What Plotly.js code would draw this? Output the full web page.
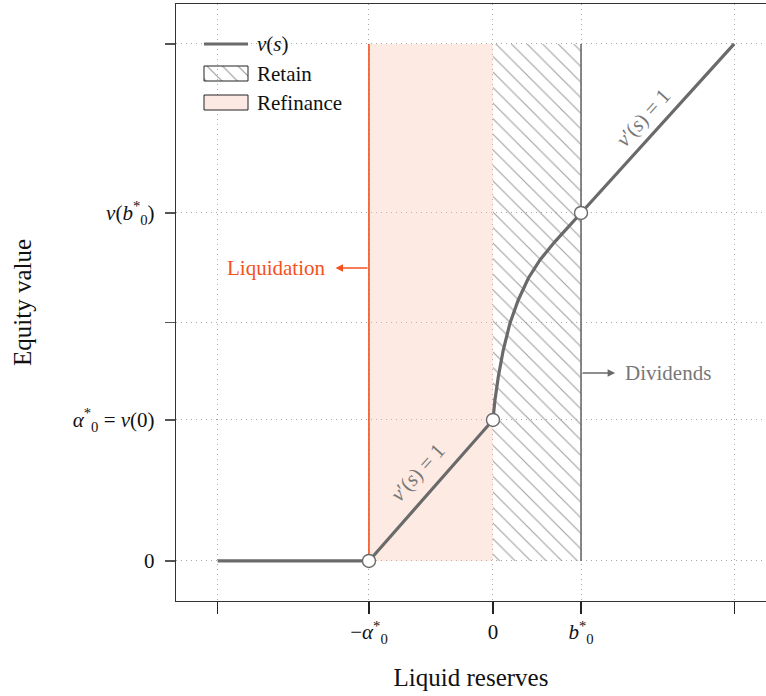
<!DOCTYPE html>
<html>
<head>
<meta charset="utf-8">
<script src="https://cdn.plot.ly/plotly-3.0.1.min.js"></script>
<style>html,body{margin:0;padding:0;background:#fff;}</style>
</head>
<body>
<div id="chart" style="width:766px;height:696px;"></div>
<script>
// ---- data ----
var xTickVals = [-2.22, -1, 0, 0.71, 1.945];
var xTickText = ['', '−<i>α</i><sup>*</sup><sub>0</sub>', '0', '<i>b</i><sup>*</sup><sub>0</sub>', ''];
var yTickVals = [0, 1, 1.69, 2.468, 3.667];
var yTickText = ['0', '<i>α</i><sup>*</sup><sub>0</sub> = <i>v</i>(0)', '', '<i>v</i>(<i>b</i><sup>*</sup><sub>0</sub>)', ''];

// equity value function v(s) over liquid reserves s
var sVals = [-2.22, -1, 0, 0.016, 0.043, 0.083, 0.137, 0.204, 0.285, 0.379, 0.500, 0.607, 0.71, 1.945];
var vVals = [0, 0, 1, 1.142, 1.307, 1.496, 1.686, 1.851, 2.005, 2.135, 2.265, 2.371, 2.468, 3.667];

// kink points: (−α0*, 0), (0, v(0)), (b0*, v(b0*))
var kinkS = [-1, 0, 0.71];
var kinkV = [0, 1, 2.468];

// regions
var refinanceS = [-1, 0, 0, -1, -1];
var refinanceV = [0, 0, 3.667, 3.667, 0];
var retainS = [0, 0.71, 0.71, 0, 0];
var retainV = [0, 0, 3.667, 3.667, 0];

// barriers
var liquidationLineS = [-1, -1];
var dividendLineS = [0.71, 0.71];
var barrierLineV = [0, 3.667];

// legend labels
var legendLabels = ['<i>v</i>(<i>s</i>)', 'Retain', 'Refinance'];

// ---- styles ----
var RED = '#f4511e';
var GRAY = '#6a6a6a';
var FONT = 'Liberation Serif, DejaVu Serif, serif';
var FS = 21;

// legend swatch geometry (pixel units on an overlay axis; layout only)
var LG = {x0: 204, x1: 248, yLine: 44, box1: [66, 81], box2: [95, 110], textX: 255};

var traces = [
  { x: refinanceS, y: refinanceV, type: 'scatter', mode: 'lines', fill: 'toself',
    fillcolor: 'rgba(248,190,170,0.33)', line: {width: 0}, hoverinfo: 'skip', showlegend: false },
  { x: retainS, y: retainV, type: 'scatter', mode: 'lines', fill: 'toself',
    fillcolor: 'rgba(255,255,255,0)', line: {width: 0},
    fillpattern: {shape: '\\', size: 11, solidity: 0.1, fgcolor: '#a0a0a0', bgcolor: 'rgba(255,255,255,0)'},
    hoverinfo: 'skip', showlegend: false },
  { x: liquidationLineS, y: barrierLineV, type: 'scatter', mode: 'lines',
    line: {color: RED, width: 1.6}, showlegend: false, hoverinfo: 'skip' },
  { x: dividendLineS, y: barrierLineV, type: 'scatter', mode: 'lines',
    line: {color: GRAY, width: 1.6}, showlegend: false, hoverinfo: 'skip' },
  { x: sVals, y: vVals, type: 'scatter', mode: 'lines', name: legendLabels[0],
    line: {color: GRAY, width: 3.2}, showlegend: false },
  { x: kinkS, y: kinkV, type: 'scatter', mode: 'markers', showlegend: false,
    marker: {size: 13, color: '#ffffff', line: {color: GRAY, width: 1.4}} },
  // legend swatches on overlay axis
  { x: [LG.x0, LG.x1], y: [LG.yLine, LG.yLine], xaxis: 'x2', yaxis: 'y2', type: 'scatter', mode: 'lines',
    line: {color: GRAY, width: 3.2}, showlegend: false, hoverinfo: 'skip' },
  { x: [LG.x0, LG.x1, LG.x1, LG.x0, LG.x0], y: [LG.box1[0], LG.box1[0], LG.box1[1], LG.box1[1], LG.box1[0]],
    xaxis: 'x2', yaxis: 'y2', type: 'scatter', mode: 'lines', fill: 'toself', name: legendLabels[1],
    fillcolor: 'rgba(255,255,255,0)', line: {color: '#222', width: 1},
    fillpattern: {shape: '\\', size: 11, solidity: 0.1, fgcolor: '#999', bgcolor: 'rgba(255,255,255,0)'},
    showlegend: false, hoverinfo: 'skip' },
  { x: [LG.x0, LG.x1, LG.x1, LG.x0, LG.x0], y: [LG.box2[0], LG.box2[0], LG.box2[1], LG.box2[1], LG.box2[0]],
    xaxis: 'x2', yaxis: 'y2', type: 'scatter', mode: 'lines', fill: 'toself', name: legendLabels[2],
    fillcolor: '#fde9e3', line: {color: '#222', width: 1}, showlegend: false, hoverinfo: 'skip' }
];

var legendAnn = [
  {y: LG.yLine, t: legendLabels[0]},
  {y: (LG.box1[0] + LG.box1[1]) / 2, t: legendLabels[1]},
  {y: (LG.box2[0] + LG.box2[1]) / 2, t: legendLabels[2]}
].map(function (d) {
  return {x: LG.textX, y: d.y, xref: 'x2', yref: 'y2', text: d.t, showarrow: false,
          xanchor: 'left', yanchor: 'middle', font: {family: FONT, size: FS, color: '#111'}};
});

var layout = {
  width: 766, height: 696,
  margin: {l: 176, r: 0, t: 4, b: 95},
  paper_bgcolor: '#fff', plot_bgcolor: '#fff',
  font: {family: FONT, size: FS, color: '#111'},
  showlegend: false,
  xaxis: {
    range: [-2.556, 2.2016], tickvals: xTickVals, ticktext: xTickText,
    showgrid: true, gridcolor: '#a8a8a8', griddash: '1px,4px', gridwidth: 1,
    zeroline: false, showline: true, linecolor: '#333', linewidth: 1.2, mirror: true,
    ticks: 'outside', ticklen: 12, tickcolor: '#222', tickwidth: 1.2,
    tickfont: {family: FONT, size: FS},
    title: {text: 'Liquid reserves', font: {family: FONT, size: 25}, standoff: 22}
  },
  yaxis: {
    range: [-0.284, 3.95], tickvals: yTickVals, ticktext: yTickText,
    showgrid: true, gridcolor: '#a8a8a8', griddash: '1px,4px', gridwidth: 1,
    zeroline: false, showline: true, linecolor: '#333', linewidth: 1.2, mirror: false,
    ticks: 'outside', ticklen: 10, tickcolor: '#555', tickwidth: 1.2,
    ticklabelstandoff: 6,
    tickfont: {family: FONT, size: FS},
    title: {text: 'Equity value', font: {family: FONT, size: 25}, standoff: 34}
  },
  xaxis2: {overlaying: 'x', range: [176, 766], visible: false, fixedrange: true},
  yaxis2: {overlaying: 'y', range: [601, 4], visible: false, fixedrange: true},
  annotations: [
    {x: -1.27, y: 2.078, ax: -1, ay: 2.078, xref: 'x', yref: 'y', axref: 'x', ayref: 'y',
     text: '', showarrow: true, arrowhead: 2, arrowsize: 1, arrowwidth: 1.5, arrowcolor: RED},
    {x: -1.34, y: 2.078, xref: 'x', yref: 'y', text: 'Liquidation', showarrow: false,
     xanchor: 'right', font: {family: FONT, size: FS, color: RED}},
    {x: 0.985, y: 1.333, ax: 0.71, ay: 1.333, xref: 'x', yref: 'y', axref: 'x', ayref: 'y',
     text: '', showarrow: true, arrowhead: 2, arrowsize: 1, arrowwidth: 1.5, arrowcolor: GRAY},
    {x: 1.045, y: 1.333, xref: 'x', yref: 'y', text: 'Dividends', showarrow: false,
     xanchor: 'left', font: {family: FONT, size: FS, color: '#777'}},
    {x: -0.605, y: 0.631, xref: 'x', yref: 'y', text: '<i>v</i>′(<i>s</i>) = 1', showarrow: false,
     textangle: -48, font: {family: FONT, size: FS, color: '#777'}},
    {x: 1.21, y: 3.14, xref: 'x', yref: 'y', text: '<i>v</i>′(<i>s</i>) = 1', showarrow: false,
     textangle: -48, font: {family: FONT, size: FS, color: '#777'}}
  ].concat(legendAnn)
};

Plotly.newPlot('chart', traces, layout, {displayModeBar: false, staticPlot: true});
</script>
</body>
</html>
